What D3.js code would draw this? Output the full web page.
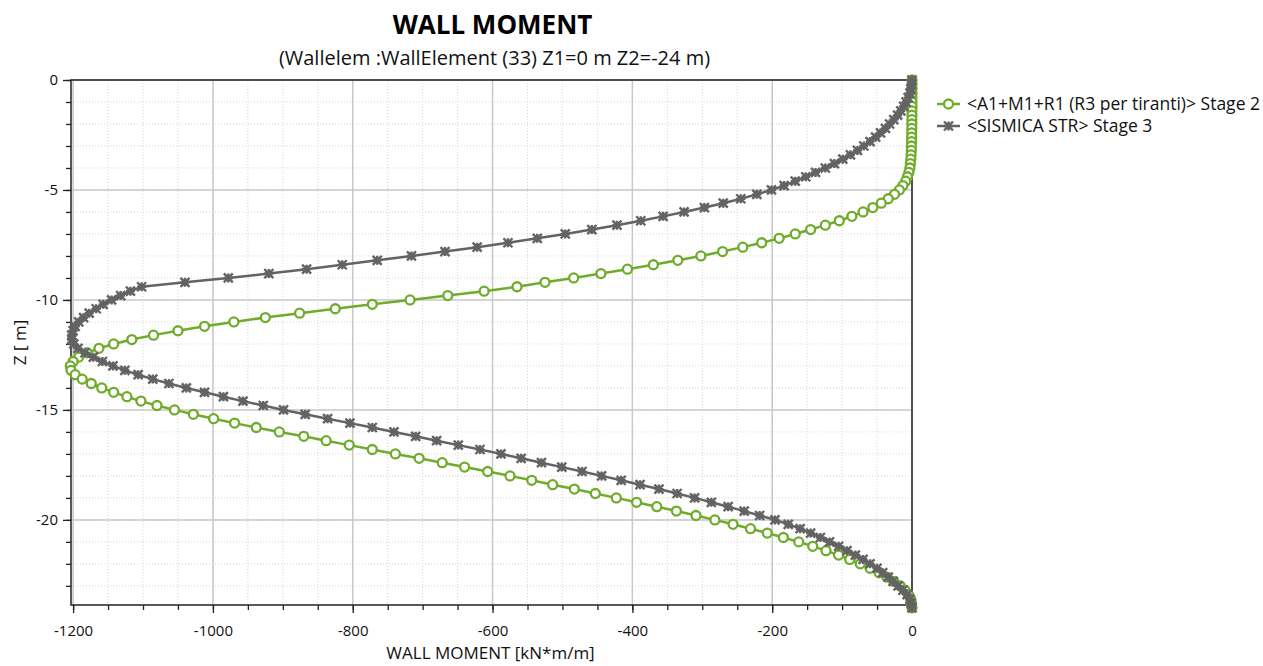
<!DOCTYPE html>
<html>
<head>
<meta charset="utf-8">
<script src="https://cdn.jsdelivr.net/npm/d3@7"></script>
<style>
  body { margin: 0; background: #fff; }
  text { font-family: "Open Sans", "Noto Sans", sans-serif; }
</style>
</head>
<body>
<script>
// Z levels of the wall nodes [m]
const depth = [0,-0.2,-0.4,-0.6,-0.8,-1,-1.2,-1.4,-1.6,-1.8,-2,-2.2,-2.4,-2.6,-2.8,-3,-3.2,-3.4,-3.6,-3.8,
  -4,-4.2,-4.4,-4.6,-4.8,-5,-5.2,-5.4,-5.6,-5.8,-6,-6.2,-6.4,-6.6,-6.8,-7,-7.2,-7.4,-7.6,-7.8,
  -8,-8.2,-8.4,-8.6,-8.8,-9,-9.2,-9.4,-9.6,-9.8,-10,-10.2,-10.4,-10.6,-10.8,-11,-11.2,-11.4,-11.6,-11.8,
  -12,-12.2,-12.4,-12.6,-12.8,-13,-13.2,-13.4,-13.6,-13.8,-14,-14.2,-14.4,-14.6,-14.8,-15,-15.2,-15.4,-15.6,-15.8,
  -16,-16.2,-16.4,-16.6,-16.8,-17,-17.2,-17.4,-17.6,-17.8,-18,-18.2,-18.4,-18.6,-18.8,-19,-19.2,-19.4,-19.6,-19.8,
  -20,-20.2,-20.4,-20.6,-20.8,-21,-21.2,-21.4,-21.6,-21.8,-22,-22.2,-22.4,-22.6,-22.8,-23,-23.2,-23.4,-23.6,-23.8,-24];

// <A1+M1+R1 (R3 per tiranti)> Stage 2  [kN*m/m]
const momentA1 = [0,0,0,0,0,0,0,-0.1,-0.1,-0.2,-0.2,-0.3,-0.4,-0.5,-0.6,-0.8,-1,-1.3,-1.7,-2.3,
  -3,-4.5,-6.5,-9,-13,-18,-25,-34,-44,-56,-70,-86,-104,-124,-145,-167,-190,-215,-242,-271,
  -302,-335,-370,-407,-445,-484,-525,-565,-612,-664,-718,-772,-825,-876,-925,-970,-1012,-1050,-1085,-1116,
  -1142,-1163,-1180,-1192,-1200,-1204,-1203,-1197,-1187,-1174,-1159,-1142,-1123,-1103,-1080,-1055,-1028,-999,-969,-938,
  -905,-870,-838,-805,-772,-739,-705,-672,-640,-607,-575,-544,-514,-483,-453,-423,-394,-365,-337,-309,
  -282,-256,-231,-207,-184,-162,-142,-123,-105,-89,-74,-60,-47,-36,-26,-17,-10,-5,-2,-0.5,0];

// <SISMICA STR> Stage 3  [kN*m/m]
const momentSismica = [0,-0.5,-1.5,-3,-5.5,-8.5,-12,-16,-20.5,-26,-32,-38,-45,-52,-60,-69,-78,-88,-99,-111,
  -124,-138,-152,-167,-183,-201,-222,-245,-270,-297,-326,-356,-388,-422,-458,-496,-536,-578,-622,-668,
  -716,-765,-815,-866,-920,-978,-1040,-1102,-1118,-1132,-1145,-1157,-1167,-1177,-1185,-1192,-1197,-1200,-1202,-1202,
  -1199,-1193,-1183,-1171,-1158,-1143,-1126,-1107,-1086,-1063,-1038,-1012,-985,-957,-928,-899,-868,-836,-804,-772,
  -741,-710,-680,-649,-618,-588,-559,-530,-501,-472,-444,-416,-389,-362,-336,-311,-287,-263,-240,-218,
  -196,-177,-160,-145,-131,-118,-105,-93,-81,-70,-60,-50,-42,-34,-27,-20,-13,-7,-3,-1,0];

const seriesNames = ["<A1+M1+R1 (R3 per tiranti)> Stage 2", "<SISMICA STR> Stage 3"];
const xMajor = [-1200,-1000,-800,-600,-400,-200,0];
const xMinor = [-1200,-1150,-1100,-1050,-1000,-950,-900,-850,-800,-750,-700,-650,-600,-550,-500,-450,-400,-350,-300,-250,-200,-150,-100,-50,0];
const yMajor = [0,-5,-10,-15,-20];
const yMinor = [0,-1,-2,-3,-4,-5,-6,-7,-8,-9,-10,-11,-12,-13,-14,-15,-16,-17,-18,-19,-20,-21,-22,-23];

const width = 1263, height = 666;
const plot = {left: 71, right: 912, top: 80, bottom: 605};
const green = "#6fac2b", grey = "#636363";

const svg = d3.select("body").append("svg")
  .attr("width", width).attr("height", height)
  .style("background", "#fff");

const x = d3.scaleLinear().domain([-1203, 0]).range([plot.left, plot.right]);
const y = d3.scaleLinear().domain([-23.87, 0]).range([plot.bottom, plot.top]);

// grid
const grid = svg.append("g");
grid.selectAll("line.vminor").data(xMinor).join("line")
  .attr("x1", d => x(d)).attr("x2", d => x(d))
  .attr("y1", plot.top).attr("y2", plot.bottom)
  .attr("stroke", "#d6d6d6").attr("stroke-dasharray", "1,2");
grid.selectAll("line.hminor").data(yMinor).join("line")
  .attr("y1", d => y(d)).attr("y2", d => y(d))
  .attr("x1", plot.left).attr("x2", plot.right)
  .attr("stroke", "#d6d6d6").attr("stroke-dasharray", "1,2");
grid.selectAll("line.vmajor").data(xMajor).join("line")
  .attr("x1", d => x(d)).attr("x2", d => x(d))
  .attr("y1", plot.top).attr("y2", plot.bottom)
  .attr("stroke", "#c8c8c8").attr("stroke-width", 1.5);
grid.selectAll("line.hmajor").data(yMajor).join("line")
  .attr("y1", d => y(d)).attr("y2", d => y(d))
  .attr("x1", plot.left).attr("x2", plot.right)
  .attr("stroke", "#c8c8c8").attr("stroke-width", 1.5);

// frame
svg.append("rect")
  .attr("x", plot.left).attr("y", plot.top)
  .attr("width", plot.right - plot.left).attr("height", plot.bottom - plot.top)
  .attr("fill", "none").attr("stroke", "#222").attr("stroke-width", 1.5);

// axes
const styleAxis = g => {
  g.select(".domain").remove();
  g.selectAll(".tick line").attr("stroke", "#222").attr("stroke-width", 1.3);
  g.selectAll(".tick text").attr("fill", "#111").style("font-size", "15px")
    .style("font-family", "'Open Sans', sans-serif");
};
svg.append("g").attr("transform", `translate(0,${plot.bottom})`)
  .call(d3.axisBottom(x).tickValues(xMinor).tickSize(5).tickFormat(""))
  .call(styleAxis);
svg.append("g").attr("transform", `translate(0,${plot.bottom})`)
  .call(d3.axisBottom(x).tickValues(xMajor).tickSize(8).tickPadding(12).tickFormat(d => String(d)))
  .call(styleAxis);
svg.append("g").attr("transform", `translate(${plot.left},0)`)
  .call(d3.axisLeft(y).tickValues(yMinor).tickSize(5).tickFormat(""))
  .call(styleAxis);
svg.append("g").attr("transform", `translate(${plot.left},0)`)
  .call(d3.axisLeft(y).tickValues(yMajor).tickSize(8).tickPadding(5).tickFormat(d => String(d)))
  .call(styleAxis);

// titles
const mid = (plot.left + plot.right) / 2;
svg.append("text").attr("x", mid + 1).attr("y", 34).attr("text-anchor", "middle")
  .style("font-size", "26px").style("font-weight", "bold").attr("fill", "#000")
  .text("WALL MOMENT");
svg.append("text").attr("x", mid + 3).attr("y", 65).attr("text-anchor", "middle")
  .style("font-size", "20px").attr("fill", "#111")
  .text("(Wallelem :WallElement (33) Z1=0 m Z2=-24 m)");
svg.append("text").attr("x", mid - 1).attr("y", 659).attr("text-anchor", "middle")
  .style("font-size", "17px").attr("fill", "#111")
  .text("WALL MOMENT [kN*m/m]");
svg.append("text").attr("transform", `translate(26,${(plot.top + plot.bottom) / 2}) rotate(-90)`)
  .attr("text-anchor", "middle").style("font-size", "17px").attr("fill", "#111")
  .text("Z [ m]");

// series
const dataA1 = depth.map((z, i) => ({z, m: momentA1[i]}));
const dataSis = depth.map((z, i) => ({z, m: momentSismica[i]}));
const line = d3.line().x(d => x(d.m)).y(d => y(d.z));

const starPath = s => `M${-s},${-s}L${s},${s}M${-s},${s}L${s},${-s}M0,${-s}L0,${s}M${-s},0L${s},0`;

const gA = svg.append("g");
gA.append("path").datum(dataA1).attr("d", line)
  .attr("fill", "none").attr("stroke", green).attr("stroke-width", 2.5);
gA.selectAll("circle").data(dataA1).join("circle")
  .attr("cx", d => x(d.m)).attr("cy", d => y(d.z)).attr("r", 4.5)
  .attr("fill", "#fff").attr("stroke", green).attr("stroke-width", 2.3);

const gS = svg.append("g");
gS.append("path").datum(dataSis).attr("d", line)
  .attr("fill", "none").attr("stroke", grey).attr("stroke-width", 2.5);
gS.selectAll("path.mk").data(dataSis).join("path").attr("class", "mk")
  .attr("transform", d => `translate(${x(d.m)},${y(d.z)})`)
  .attr("d", starPath(4.5)).attr("fill", "none").attr("stroke", grey).attr("stroke-width", 2.4);

// legend
const legend = svg.append("g").attr("transform", "translate(937,104)");
const items = legend.selectAll("g").data(seriesNames).join("g")
  .attr("transform", (d, i) => `translate(0,${i * 22})`);
items.append("line").attr("x1", 0).attr("x2", 23)
  .attr("stroke", (d, i) => i ? grey : green).attr("stroke-width", 2.5);
items.filter((d, i) => i === 0).append("circle").attr("cx", 11.5).attr("r", 4.5)
  .attr("fill", "#fff").attr("stroke", green).attr("stroke-width", 2.3);
items.filter((d, i) => i === 1).append("path").attr("transform", "translate(11.5,0)")
  .attr("d", starPath(4.5)).attr("stroke", grey).attr("stroke-width", 2.4);
items.append("text").attr("x", 30).attr("y", 6)
  .style("font-size", "17.5px").attr("fill", "#111").text(d => d);
</script>
</body>
</html>
